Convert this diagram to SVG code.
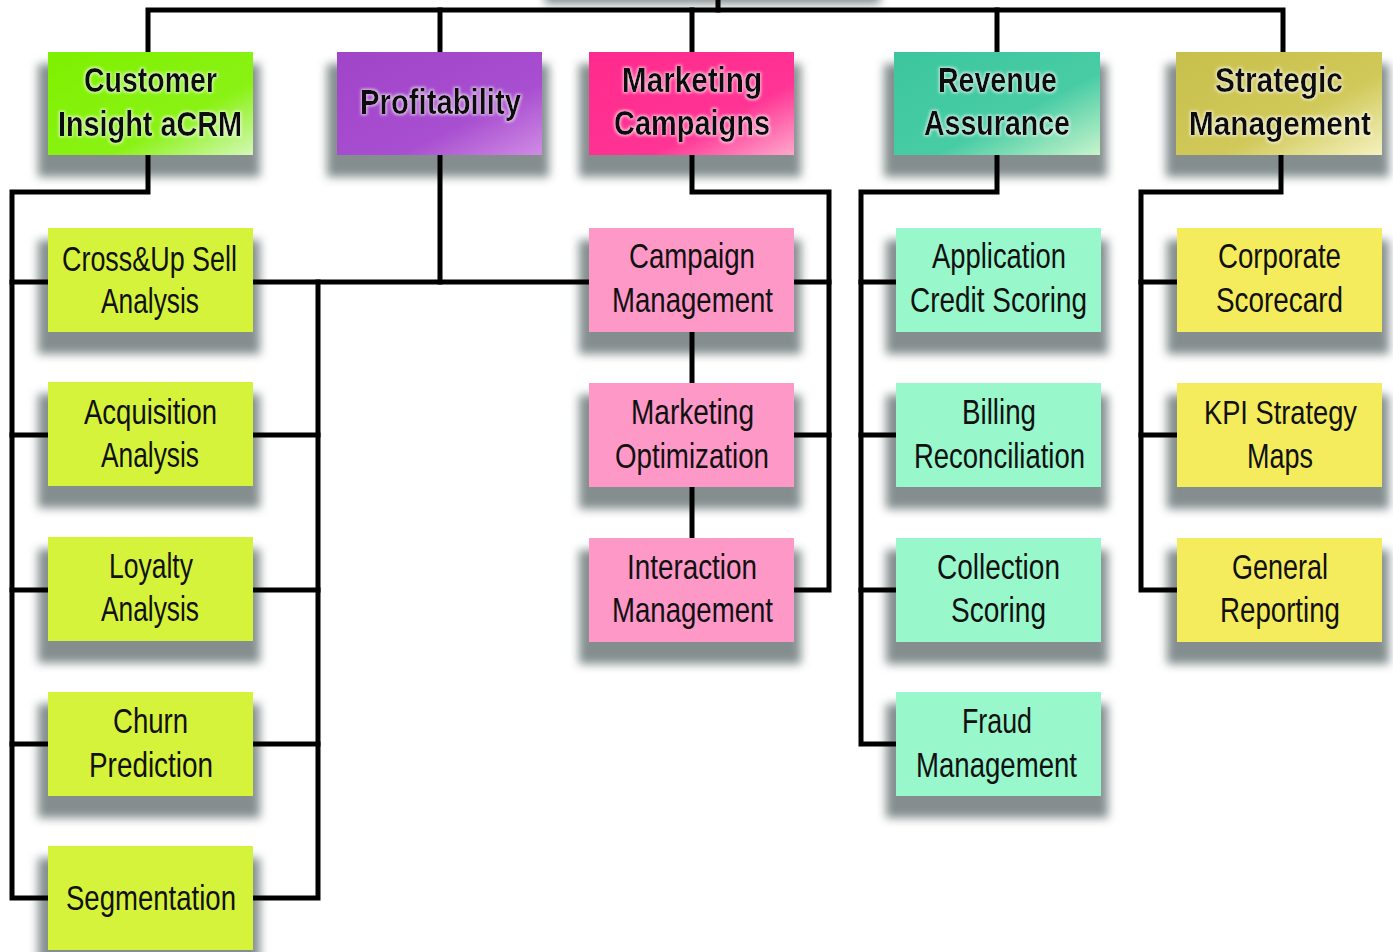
<svg xmlns="http://www.w3.org/2000/svg" width="1393" height="952" viewBox="0 0 1393 952">
<defs>
<style>
.conn{fill:none;stroke:#000;stroke-width:5;stroke-linecap:square;stroke-linejoin:miter}
.sh{fill:#667272;opacity:0.8;filter:url(#blur)}
.hd{font-family:"Liberation Sans",Arial,sans-serif;font-weight:bold;font-size:35px;fill:#111;text-anchor:middle;filter:url(#glow)}
.tx{font-family:"Liberation Sans",Arial,sans-serif;font-size:35px;fill:#111;text-anchor:middle}
.lg{fill:#d6f33c}
.pk{fill:#fe98c7}
.mt{fill:#98f8cc}
.yl{fill:#f4ec5c}
</style>
<filter id="blur" x="-20%" y="-30%" width="140%" height="160%"><feGaussianBlur stdDeviation="5"/></filter>
<filter id="glow" x="-10%" y="-40%" width="120%" height="180%">
<feMorphology in="SourceAlpha" operator="dilate" radius="1" result="d"/>
<feGaussianBlur in="d" stdDeviation="1.8" result="b"/>
<feFlood flood-color="#ffffff" flood-opacity="0.7"/>
<feComposite in2="b" operator="in" result="g"/>
<feMerge><feMergeNode in="g"/><feMergeNode in="SourceGraphic"/></feMerge>
</filter>
<linearGradient id="gGreen" x1="0" y1="0" x2="1" y2="1"><stop offset="0" stop-color="#7ef000"/><stop offset="0.65" stop-color="#8af214"/><stop offset="1" stop-color="#d4f8b8"/></linearGradient>
<linearGradient id="gPurple" x1="0" y1="0" x2="1" y2="1"><stop offset="0" stop-color="#a044c8"/><stop offset="0.65" stop-color="#a84ed0"/><stop offset="1" stop-color="#d08ce4"/></linearGradient>
<linearGradient id="gPink" x1="0" y1="0" x2="1" y2="1"><stop offset="0" stop-color="#ff2a8c"/><stop offset="0.65" stop-color="#ff3494"/><stop offset="1" stop-color="#ffa8cc"/></linearGradient>
<linearGradient id="gTeal" x1="0" y1="0" x2="1" y2="1"><stop offset="0" stop-color="#3cc69e"/><stop offset="0.6" stop-color="#48cca4"/><stop offset="1" stop-color="#c8f4cc"/></linearGradient>
<linearGradient id="gOlive" x1="0" y1="0" x2="1" y2="1"><stop offset="0" stop-color="#c8c04c"/><stop offset="0.6" stop-color="#d0c858"/><stop offset="1" stop-color="#f4f2c0"/></linearGradient>
</defs>
<rect width="1393" height="952" fill="#ffffff"/>

<g id="shadows">
<rect class="sh" x="545" y="-40" width="335" height="44" opacity="0.35"/>
<rect class="sh" x="38" y="64" width="222" height="113"/>
<rect class="sh" x="327" y="64" width="222" height="113"/>
<rect class="sh" x="579" y="64" width="222" height="113"/>
<rect class="sh" x="884" y="64" width="223" height="113"/>
<rect class="sh" x="1166" y="64" width="223" height="113"/>
<rect class="sh" x="38" y="240" width="222" height="114"/>
<rect class="sh" x="38" y="394" width="222" height="114"/>
<rect class="sh" x="38" y="549" width="222" height="114"/>
<rect class="sh" x="38" y="704" width="222" height="114"/>
<rect class="sh" x="38" y="858" width="222" height="114"/>
<rect class="sh" x="579" y="240" width="222" height="114"/>
<rect class="sh" x="579" y="395" width="222" height="114"/>
<rect class="sh" x="579" y="550" width="222" height="114"/>
<rect class="sh" x="886" y="240" width="222" height="114"/>
<rect class="sh" x="886" y="395" width="222" height="114"/>
<rect class="sh" x="886" y="550" width="222" height="114"/>
<rect class="sh" x="886" y="704" width="222" height="114"/>
<rect class="sh" x="1167" y="240" width="222" height="114"/>
<rect class="sh" x="1167" y="395" width="222" height="114"/>
<rect class="sh" x="1167" y="550" width="222" height="114"/>
</g>

<g id="connectors" class="conn">
<path d="M718 -5 V10"/>
<path d="M148 52 V10 H1283 V52"/>
<path d="M440 10 V52"/>
<path d="M692 10 V52"/>
<path d="M997 10 V52"/>
<path d="M148 155 V192 H12 V898 H48"/>
<path d="M12 282 H48"/><path d="M12 435 H48"/><path d="M12 590 H48"/><path d="M12 744 H48"/>
<path d="M253 282 H589"/>
<path d="M440 155 V282"/>
<path d="M318 282 V898 H253"/>
<path d="M253 435 H318"/><path d="M253 590 H318"/><path d="M253 744 H318"/>
<path d="M692 155 V192 H829 V590 H794"/>
<path d="M794 282 H829"/><path d="M794 435 H829"/>
<path d="M692 332 V383"/><path d="M692 487 V538"/>
<path d="M997 155 V192 H861 V744 H896"/>
<path d="M861 282 H896"/><path d="M861 435 H896"/><path d="M861 590 H896"/>
<path d="M1281 155 V192 H1141 V590 H1177"/>
<path d="M1141 282 H1177"/><path d="M1141 435 H1177"/>
</g>

<g id="customer-insight">
<rect x="48" y="52" width="205" height="103" fill="url(#gGreen)"/>
<text class="hd" x="150.5" y="92" textLength="133" lengthAdjust="spacingAndGlyphs">Customer</text>
<text class="hd" x="150" y="136" textLength="184" lengthAdjust="spacingAndGlyphs">Insight aCRM</text>
</g>
<g id="profitability">
<rect x="337" y="52" width="205" height="103" fill="url(#gPurple)"/>
<text class="hd" x="440.5" y="114" textLength="161" lengthAdjust="spacingAndGlyphs">Profitability</text>
</g>
<g id="marketing-campaigns">
<rect x="589" y="52" width="205" height="103" fill="url(#gPink)"/>
<text class="hd" x="692" y="92" textLength="140" lengthAdjust="spacingAndGlyphs">Marketing</text>
<text class="hd" x="692" y="135" textLength="156" lengthAdjust="spacingAndGlyphs">Campaigns</text>
</g>
<g id="revenue-assurance">
<rect x="894" y="52" width="206" height="103" fill="url(#gTeal)"/>
<text class="hd" x="997.5" y="92" textLength="119" lengthAdjust="spacingAndGlyphs">Revenue</text>
<text class="hd" x="997" y="135" textLength="146" lengthAdjust="spacingAndGlyphs">Assurance</text>
</g>
<g id="strategic-management">
<rect x="1176" y="52" width="206" height="103" fill="url(#gOlive)"/>
<text class="hd" x="1279" y="92" textLength="128" lengthAdjust="spacingAndGlyphs">Strategic</text>
<text class="hd" x="1280" y="135" style="font-size:33px" textLength="182" lengthAdjust="spacingAndGlyphs">Management</text>
</g>

<g id="cross-up-sell">
<rect class="lg" x="48" y="228" width="205" height="104"/>
<text class="tx" x="149.5" y="271" textLength="175" lengthAdjust="spacingAndGlyphs">Cross&amp;Up Sell</text>
<text class="tx" x="150" y="313" textLength="98" lengthAdjust="spacingAndGlyphs">Analysis</text>
</g>
<g id="acquisition-analysis">
<rect class="lg" x="48" y="382" width="205" height="104"/>
<text class="tx" x="150.5" y="424" textLength="133" lengthAdjust="spacingAndGlyphs">Acquisition</text>
<text class="tx" x="150" y="467" textLength="98" lengthAdjust="spacingAndGlyphs">Analysis</text>
</g>
<g id="loyalty-analysis">
<rect class="lg" x="48" y="537" width="205" height="104"/>
<text class="tx" x="151" y="578" textLength="84" lengthAdjust="spacingAndGlyphs">Loyalty</text>
<text class="tx" x="150" y="621" textLength="98" lengthAdjust="spacingAndGlyphs">Analysis</text>
</g>
<g id="churn-prediction">
<rect class="lg" x="48" y="692" width="205" height="104"/>
<text class="tx" x="150.5" y="733" textLength="75" lengthAdjust="spacingAndGlyphs">Churn</text>
<text class="tx" x="151" y="777" textLength="124" lengthAdjust="spacingAndGlyphs">Prediction</text>
</g>
<g id="segmentation">
<rect class="lg" x="48" y="846" width="205" height="104"/>
<text class="tx" x="151" y="910" textLength="170" lengthAdjust="spacingAndGlyphs">Segmentation</text>
</g>

<g id="campaign-management">
<rect class="pk" x="589" y="228" width="205" height="104"/>
<text class="tx" x="692" y="268" textLength="126" lengthAdjust="spacingAndGlyphs">Campaign</text>
<text class="tx" x="692.5" y="312" textLength="161" lengthAdjust="spacingAndGlyphs">Management</text>
</g>
<g id="marketing-optimization">
<rect class="pk" x="589" y="383" width="205" height="104"/>
<text class="tx" x="692.5" y="424" textLength="123" lengthAdjust="spacingAndGlyphs">Marketing</text>
<text class="tx" x="692" y="468" textLength="154" lengthAdjust="spacingAndGlyphs">Optimization</text>
</g>
<g id="interaction-management">
<rect class="pk" x="589" y="538" width="205" height="104"/>
<text class="tx" x="692" y="579" textLength="130" lengthAdjust="spacingAndGlyphs">Interaction</text>
<text class="tx" x="692.5" y="622" textLength="161" lengthAdjust="spacingAndGlyphs">Management</text>
</g>

<g id="application-credit-scoring">
<rect class="mt" x="896" y="228" width="205" height="104"/>
<text class="tx" x="999" y="268" textLength="134" lengthAdjust="spacingAndGlyphs">Application</text>
<text class="tx" x="998.5" y="312" textLength="177" lengthAdjust="spacingAndGlyphs">Credit Scoring</text>
</g>
<g id="billing-reconciliation">
<rect class="mt" x="896" y="383" width="205" height="104"/>
<text class="tx" x="999" y="424" textLength="74" lengthAdjust="spacingAndGlyphs">Billing</text>
<text class="tx" x="999.5" y="468" textLength="171" lengthAdjust="spacingAndGlyphs">Reconciliation</text>
</g>
<g id="collection-scoring">
<rect class="mt" x="896" y="538" width="205" height="104"/>
<text class="tx" x="998.5" y="579" textLength="123" lengthAdjust="spacingAndGlyphs">Collection</text>
<text class="tx" x="998.5" y="622" textLength="95" lengthAdjust="spacingAndGlyphs">Scoring</text>
</g>
<g id="fraud-management">
<rect class="mt" x="896" y="692" width="205" height="104"/>
<text class="tx" x="997" y="733" textLength="70" lengthAdjust="spacingAndGlyphs">Fraud</text>
<text class="tx" x="996.5" y="777" textLength="161" lengthAdjust="spacingAndGlyphs">Management</text>
</g>

<g id="corporate-scorecard">
<rect class="yl" x="1177" y="228" width="205" height="104"/>
<text class="tx" x="1279.5" y="268" textLength="123" lengthAdjust="spacingAndGlyphs">Corporate</text>
<text class="tx" x="1279.5" y="312" textLength="127" lengthAdjust="spacingAndGlyphs">Scorecard</text>
</g>
<g id="kpi-strategy-maps">
<rect class="yl" x="1177" y="383" width="205" height="104"/>
<text class="tx" x="1280.5" y="424" style="font-size:33px" textLength="153" lengthAdjust="spacingAndGlyphs">KPI Strategy</text>
<text class="tx" x="1280" y="468" textLength="66" lengthAdjust="spacingAndGlyphs">Maps</text>
</g>
<g id="general-reporting">
<rect class="yl" x="1177" y="538" width="205" height="104"/>
<text class="tx" x="1280" y="579" textLength="96" lengthAdjust="spacingAndGlyphs">General</text>
<text class="tx" x="1280" y="622" textLength="120" lengthAdjust="spacingAndGlyphs">Reporting</text>
</g>
</svg>
